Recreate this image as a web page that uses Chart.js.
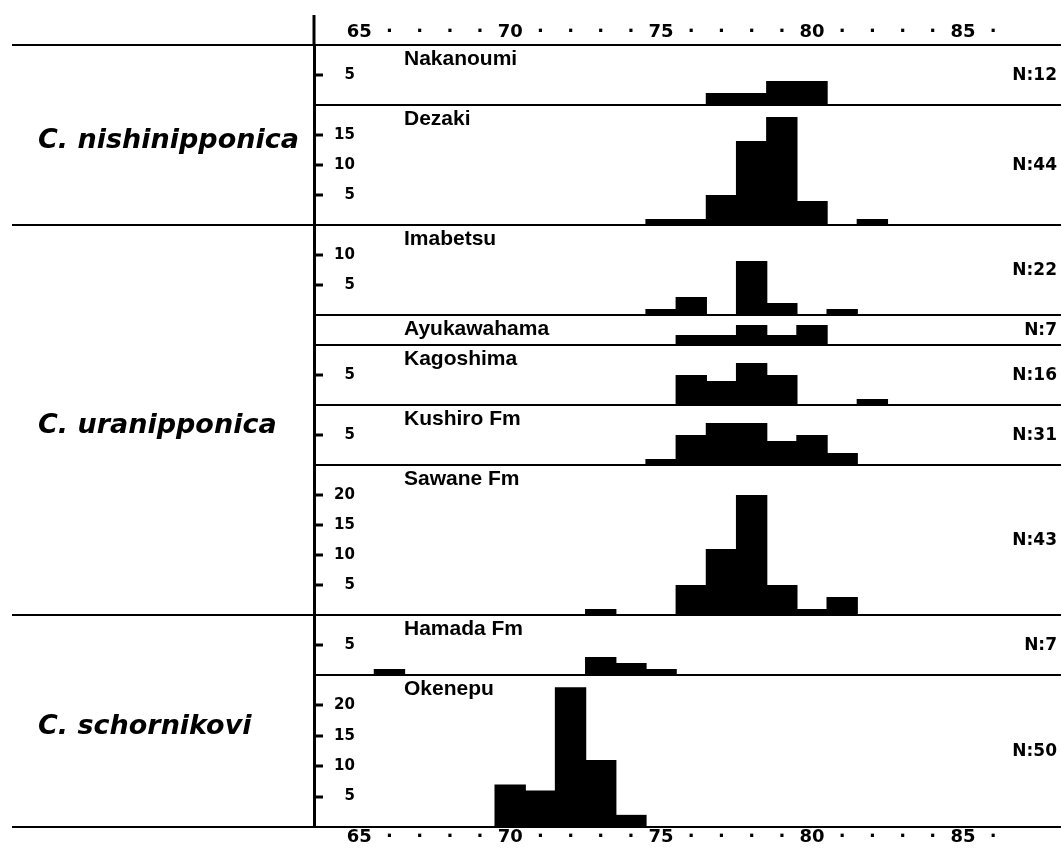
<!DOCTYPE html>
<html>
<head>
<meta charset="utf-8">
<title>Size distributions</title>
<script src="https://cdn.jsdelivr.net/npm/chart.js@4.4.1/dist/chart.umd.min.js"></script>
<style>
  html, body { margin: 0; padding: 0; background: #fff; }
  #wrap { width: 1061px; height: 852px; }
</style>
</head>
<body>
<div id="wrap"><canvas id="hist" width="1061" height="852"></canvas></div>
<script>
// size classes along the x axis (one bar per class)
const sizeClasses = [65, 66, 67, 68, 69, 70, 71, 72, 73, 74, 75, 76, 77, 78, 79, 80, 81, 82, 83, 84, 85, 86];

// counts per size class, one array per locality
const nakanoumi   = [0,0,0,0,0, 0,0,0,0,0, 0,0,2,2,4, 4,0,0,0,0, 0,0];
const dezaki      = [0,0,0,0,0, 0,0,0,0,0, 1,1,5,14,18, 4,0,1,0,0, 0,0];
const imabetsu    = [0,0,0,0,0, 0,0,0,0,0, 1,3,0,9,2, 0,1,0,0,0, 0,0];
const ayukawahama = [0,0,0,0,0, 0,0,0,0,0, 0,1,1,2,1, 2,0,0,0,0, 0,0];
const kagoshima   = [0,0,0,0,0, 0,0,0,0,0, 0,5,4,7,5, 0,0,1,0,0, 0,0];
const kushiro     = [0,0,0,0,0, 0,0,0,0,0, 1,5,7,7,4, 5,2,0,0,0, 0,0];
const sawane      = [0,0,0,0,0, 0,0,0,1,0, 0,5,11,20,5, 1,3,0,0,0, 0,0];
const hamada      = [0,1,0,0,0, 0,0,0,3,2, 1,0,0,0,0, 0,0,0,0,0, 0,0];
const okenepu     = [0,0,0,0,0, 7,6,23,11,2, 0,0,0,0,0, 0,0,0,0,0, 0,0];

const localities = ["Nakanoumi", "Dezaki", "Imabetsu", "Ayukawahama", "Kagoshima",
                    "Kushiro Fm", "Sawane Fm", "Hamada Fm", "Okenepu"];
const sampleSizes = [12, 44, 22, 7, 16, 31, 43, 7, 50];
const counts = [nakanoumi, dezaki, imabetsu, ayukawahama, kagoshima, kushiro, sawane, hamada, okenepu];

const species = ["C. nishinipponica", "C. uranipponica", "C. schornikovi"];
const localitiesPerSpecies = [2, 5, 2];

// y range of each panel and its share of the plot height
const panelMax = [10, 20, 15, 3, 10, 10, 25, 10, 25];
const panelHeight = [60, 120, 90, 30, 60, 60, 150, 60, 152];

const numFont = { family: "DejaVu Sans", weight: "bold", size: 18 };

function xLabel(v) {
    if (!Number.isInteger(v) || v < 64 || v > 86) return "";
    return v % 5 === 0 ? String(v) : "·";
}

function xAxis(pos, h, pad) {
    return {
        type: "linear",
        position: pos,
        min: 63.5,
        max: 88.25,
        offset: false,
        afterFit: function (s) { s.height = h; s.paddingLeft = 0; s.paddingRight = 0; },
        grid: { display: false, drawTicks: false },
        border: { display: true, color: "#000", width: 2 },
        ticks: {
            stepSize: 1,
            autoSkip: false,
            maxRotation: 0,
            minRotation: 0,
            padding: pad,
            color: "#000",
            font: numFont,
            callback: xLabel
        }
    };
}

let scales = {
    x: xAxis("bottom", 25, 0),
    xTop: xAxis("top", 45, 2)
};

let datasets = [];

localities.forEach(function (name, k) {
    const max = panelMax[k];
    const shown = function (v) { return v > 0 && v < max && v % 5 === 0; };
    scales["y" + k] = {
        type: "linear",
        position: "left",
        stack: "panels",
        stackWeight: panelHeight[k],
        weight: localities.length - k,
        min: 0,
        max: max,
        offset: false,
        afterFit: function (s) { s.width = 32; s.paddingTop = 0; s.paddingBottom = 0; },
        afterBuildTicks: function (s) {
            let t = [];
            for (let v = 0; v <= max; v += 5) t.push({ value: v });
            if (t[t.length - 1].value !== max) t.push({ value: max });
            s.ticks = t;
        },
        border: { display: true, color: "#000", width: 3 },
        grid: {
            color: function (c) { return c.tick && c.tick.value === 0 ? "#000" : "rgba(0,0,0,0)"; },
            lineWidth: 2,
            tickLength: -9,
            tickWidth: 3,
            tickColor: function (c) { return c.tick && shown(c.tick.value) ? "#000" : "rgba(0,0,0,0)"; }
        },
        ticks: {
            mirror: true,
            autoSkip: false,
            padding: 20,
            crossAlign: "near",
            color: "#000",
            font: { family: "DejaVu Sans", weight: "bold", size: 15 },
            callback: function (v) {
                if (!shown(v)) return "";
                return v < 10 ? "\u2007" + v : String(v);
            }
        }
    };

    datasets.push({
        label: name,
        type: "bar",
        xAxisID: "x",
        yAxisID: "y" + k,
        data: sizeClasses.map(function (c, i) { return { x: c, y: counts[k][i] }; }),
        backgroundColor: "#000",
        borderWidth: 0,
        grouped: false,
        barPercentage: 1.04,
        categoryPercentage: 1
    });
});

// locality names, sample sizes, species names and group rules
const annotate = {
    id: "annotate",
    afterDraw: function (chart) {
        const ctx = chart.ctx;
        const area = chart.chartArea;
        ctx.save();
        ctx.fillStyle = "#000";
        ctx.strokeStyle = "#000";

        ctx.lineWidth = 3;
        ctx.beginPath();
        ctx.moveTo(area.left, 15);
        ctx.lineTo(area.left, area.top);
        ctx.stroke();

        localities.forEach(function (name, k) {
            const s = chart.scales["y" + k];
            ctx.font = 'bold 21px "Liberation Sans"';
            ctx.textAlign = "left";
            ctx.textBaseline = "top";
            ctx.fillText(name, area.left + 90, s.top + 4);

            ctx.font = 'bold 17px "DejaVu Sans"';
            ctx.textAlign = "right";
            ctx.textBaseline = "middle";
            ctx.fillText("N:" + sampleSizes[k], area.right - 4, (s.top + s.bottom) / 2 + 1);
        });

        ctx.lineWidth = 2;
        let first = 0;
        species.forEach(function (name, g) {
            const last = first + localitiesPerSpecies[g] - 1;
            const top = chart.scales["y" + first].top;
            const bottom = chart.scales["y" + last].bottom;
            ctx.beginPath();
            ctx.moveTo(12, top);
            ctx.lineTo(area.left, top);
            ctx.moveTo(12, bottom);
            ctx.lineTo(area.left, bottom);
            ctx.stroke();

            ctx.font = 'italic bold 27px "DejaVu Sans"';
            ctx.textAlign = "left";
            ctx.textBaseline = "middle";
            ctx.fillText(name, 38, (top + bottom) / 2 + 6);
            first = last + 1;
        });
        ctx.restore();
    }
};

new Chart(document.getElementById("hist"), {
    type: "bar",
    data: { datasets: datasets },
    options: {
        responsive: false,
        animation: false,
        layout: { autoPadding: false, padding: { left: 282, right: 0, top: 0, bottom: 0 } },
        plugins: {
            legend: { display: false },
            title: { display: false },
            tooltip: { enabled: false }
        },
        scales: scales
    },
    plugins: [annotate]
});
</script>
</body>
</html>
